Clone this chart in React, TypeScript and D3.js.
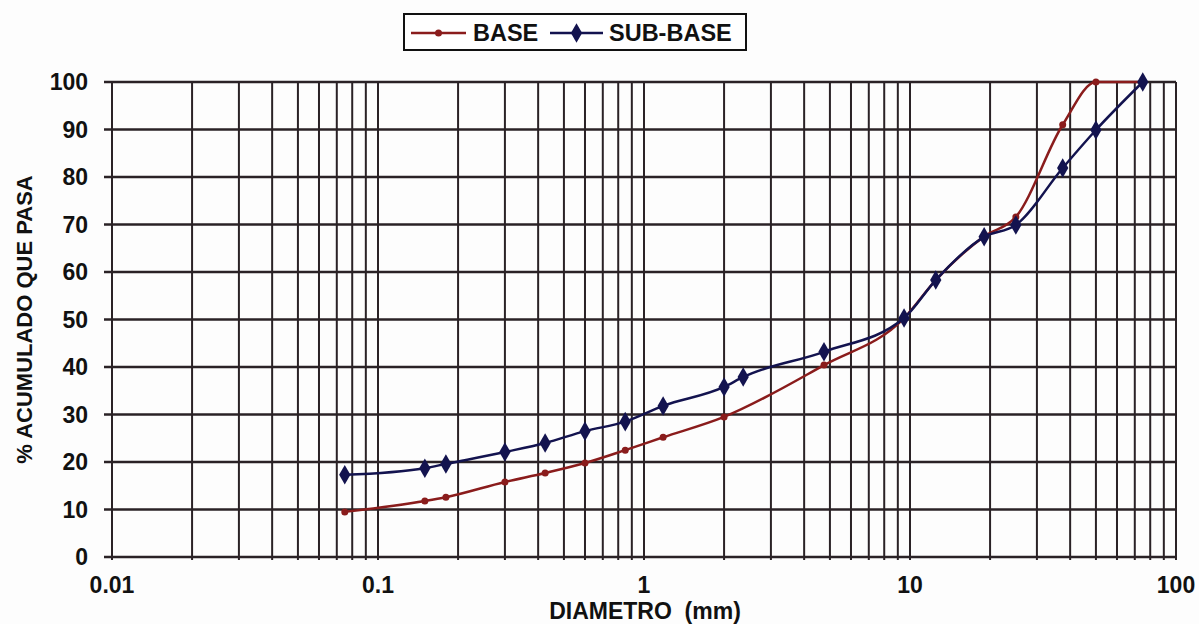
import React, { useEffect, useRef } from "react";
import * as d3 from "d3";

// diameters (mm) and % passing
const baseDiam = [0.075, 0.15, 0.18, 0.3, 0.425, 0.6, 0.85, 1.18, 2.0, 4.75, 9.5, 12.5, 19, 25, 37.5, 50, 75];
const basePass = [9.5, 11.8, 12.6, 15.8, 17.7, 19.8, 22.5, 25.2, 29.5, 40.4, 50.3, 58.3, 67.5, 71.6, 91, 100, 100];
const subDiam = [0.075, 0.15, 0.18, 0.3, 0.425, 0.6, 0.85, 1.18, 2.0, 2.36, 4.75, 9.5, 12.5, 19, 25, 37.5, 50, 75];
const subPass = [17.3, 18.7, 19.6, 22.1, 24, 26.5, 28.5, 31.8, 35.8, 37.9, 43.2, 50.3, 58.3, 67.4, 69.9, 81.9, 89.9, 100];

const xTickLabels = ["0.01", "0.1", "1", "10", "100"];
const yTicks = [0, 10, 20, 30, 40, 50, 60, 70, 80, 90, 100];
const legendNames = ["BASE", "SUB-BASE"];

const App = () => {
    const svgRef = useRef<SVGSVGElement>(null);

    useEffect(() => {
        const w = 1199;
        const h = 624;
        const margin = { top: 82, right: 23, bottom: 67, left: 112 };
        const font = "'Liberation Sans', Arial, sans-serif";
        const gridColor = "#2a2226";
        const baseColor = "#8a1c1c";
        const subColor = "#13134f";

        const svg = d3.select(svgRef.current);
        svg.selectAll("*").remove();
        svg.attr("width", w).attr("height", h);

        svg.append("rect").attr("width", w).attr("height", h).attr("fill", "#fdfdfd");

        const x = d3.scaleLog().domain([0.01, 100]).range([margin.left, w - margin.right]);
        const y = d3.scaleLinear().domain([0, 100]).range([h - margin.bottom, margin.top]);

        // vertical log grid
        const vLines: number[] = [];
        [0.01, 0.1, 1, 10].forEach(d => {
            for (let k = 1; k <= 9; k++) vLines.push(d * k);
        });
        vLines.push(100);

        const grid = svg.append("g");
        grid.selectAll(".v")
            .data(vLines)
            .join("line")
            .attr("x1", d => x(d))
            .attr("x2", d => x(d))
            .attr("y1", y(100))
            .attr("y2", y(0) + 3)
            .attr("stroke", gridColor)
            .attr("stroke-width", 2);

        grid.selectAll(".h")
            .data(yTicks)
            .join("line")
            .attr("x1", margin.left - 8)
            .attr("x2", w - margin.right)
            .attr("y1", d => y(d))
            .attr("y2", d => y(d))
            .attr("stroke", gridColor)
            .attr("stroke-width", 2.5);

        // y tick labels
        svg.append("g")
            .selectAll("text")
            .data(yTicks)
            .join("text")
            .attr("x", margin.left - 24)
            .attr("y", d => y(d))
            .attr("dy", "0.36em")
            .attr("text-anchor", "end")
            .attr("font-family", font)
            .attr("font-weight", "bold")
            .attr("font-size", 23)
            .attr("fill", "#111")
            .text(d => d);

        // x tick labels
        svg.append("g")
            .selectAll("text")
            .data(xTickLabels)
            .join("text")
            .attr("x", d => x(+d))
            .attr("y", y(0) + 36)
            .attr("text-anchor", "middle")
            .attr("font-family", font)
            .attr("font-weight", "bold")
            .attr("font-size", 23)
            .attr("fill", "#111")
            .text(d => d);

        svg.append("text")
            .attr("x", 645)
            .attr("y", 619)
            .attr("text-anchor", "middle")
            .attr("font-family", font)
            .attr("font-weight", "bold")
            .attr("font-size", 23)
            .attr("fill", "#111")
            .attr("xml:space", "preserve")
            .text("DIAMETRO  (mm)");

        svg.append("text")
            .attr("transform", `translate(32, ${y(50)}) rotate(-90)`)
            .attr("text-anchor", "middle")
            .attr("font-family", font)
            .attr("font-weight", "bold")
            .attr("font-size", 22)
            .attr("fill", "#111")
            .text("% ACUMULADO QUE PASA");

        // series
        const series = [
            { name: legendNames[0], xs: baseDiam, ys: basePass, color: baseColor },
            { name: legendNames[1], xs: subDiam, ys: subPass, color: subColor },
        ];

        const line = d3.line<[number, number]>()
            .x(d => x(d[0]))
            .y(d => y(d[1]))
            .curve(d3.curveMonotoneX);

        series.forEach((s, i) => {
            const pts: [number, number][] = s.xs.map((d, j) => [d, s.ys[j]]);
            svg.append("path")
                .datum(pts)
                .attr("d", line)
                .attr("fill", "none")
                .attr("stroke", s.color)
                .attr("stroke-width", 2.5);

            if (i === 0) {
                svg.append("g")
                    .selectAll("circle")
                    .data(pts)
                    .join("circle")
                    .attr("cx", d => x(d[0]))
                    .attr("cy", d => y(d[1]))
                    .attr("r", 3.5)
                    .attr("fill", s.color);
            } else {
                svg.append("g")
                    .selectAll("path")
                    .data(pts)
                    .join("path")
                    .attr("transform", d => `translate(${x(d[0])}, ${y(d[1])})`)
                    .attr("d", d3.symbol(d3.symbolDiamond, 110)())
                    .attr("fill", s.color);
            }
        });

        // legend
        const lg = svg.append("g");
        lg.append("rect")
            .attr("x", 404)
            .attr("y", 14)
            .attr("width", 342)
            .attr("height", 36)
            .attr("fill", "#fff")
            .attr("stroke", "#111")
            .attr("stroke-width", 2);

        const items = [
            { x0: 411, x1: 466, tx: 473, color: baseColor, name: legendNames[0] },
            { x0: 550, x1: 603, tx: 609, color: subColor, name: legendNames[1] },
        ];
        items.forEach((it, i) => {
            lg.append("line")
                .attr("x1", it.x0)
                .attr("x2", it.x1)
                .attr("y1", 33)
                .attr("y2", 33)
                .attr("stroke", it.color)
                .attr("stroke-width", 2.5);
            if (i === 0) {
                lg.append("circle")
                    .attr("cx", (it.x0 + it.x1) / 2)
                    .attr("cy", 33)
                    .attr("r", 3.5)
                    .attr("fill", it.color);
            } else {
                lg.append("path")
                    .attr("transform", `translate(${(it.x0 + it.x1) / 2}, 33)`)
                    .attr("d", d3.symbol(d3.symbolDiamond, 110)())
                    .attr("fill", it.color);
            }
            lg.append("text")
                .attr("x", it.tx)
                .attr("y", 33)
                .attr("dy", "0.36em")
                .attr("font-family", font)
                .attr("font-weight", "bold")
                .attr("font-size", 23.5)
                .attr("fill", "#111")
                .text(it.name);
        });
    }, []);

    return (
        <svg ref={svgRef} style={{ position: "absolute", left: 0, top: 0, display: "block" }}></svg>
    );
};

export default App;
